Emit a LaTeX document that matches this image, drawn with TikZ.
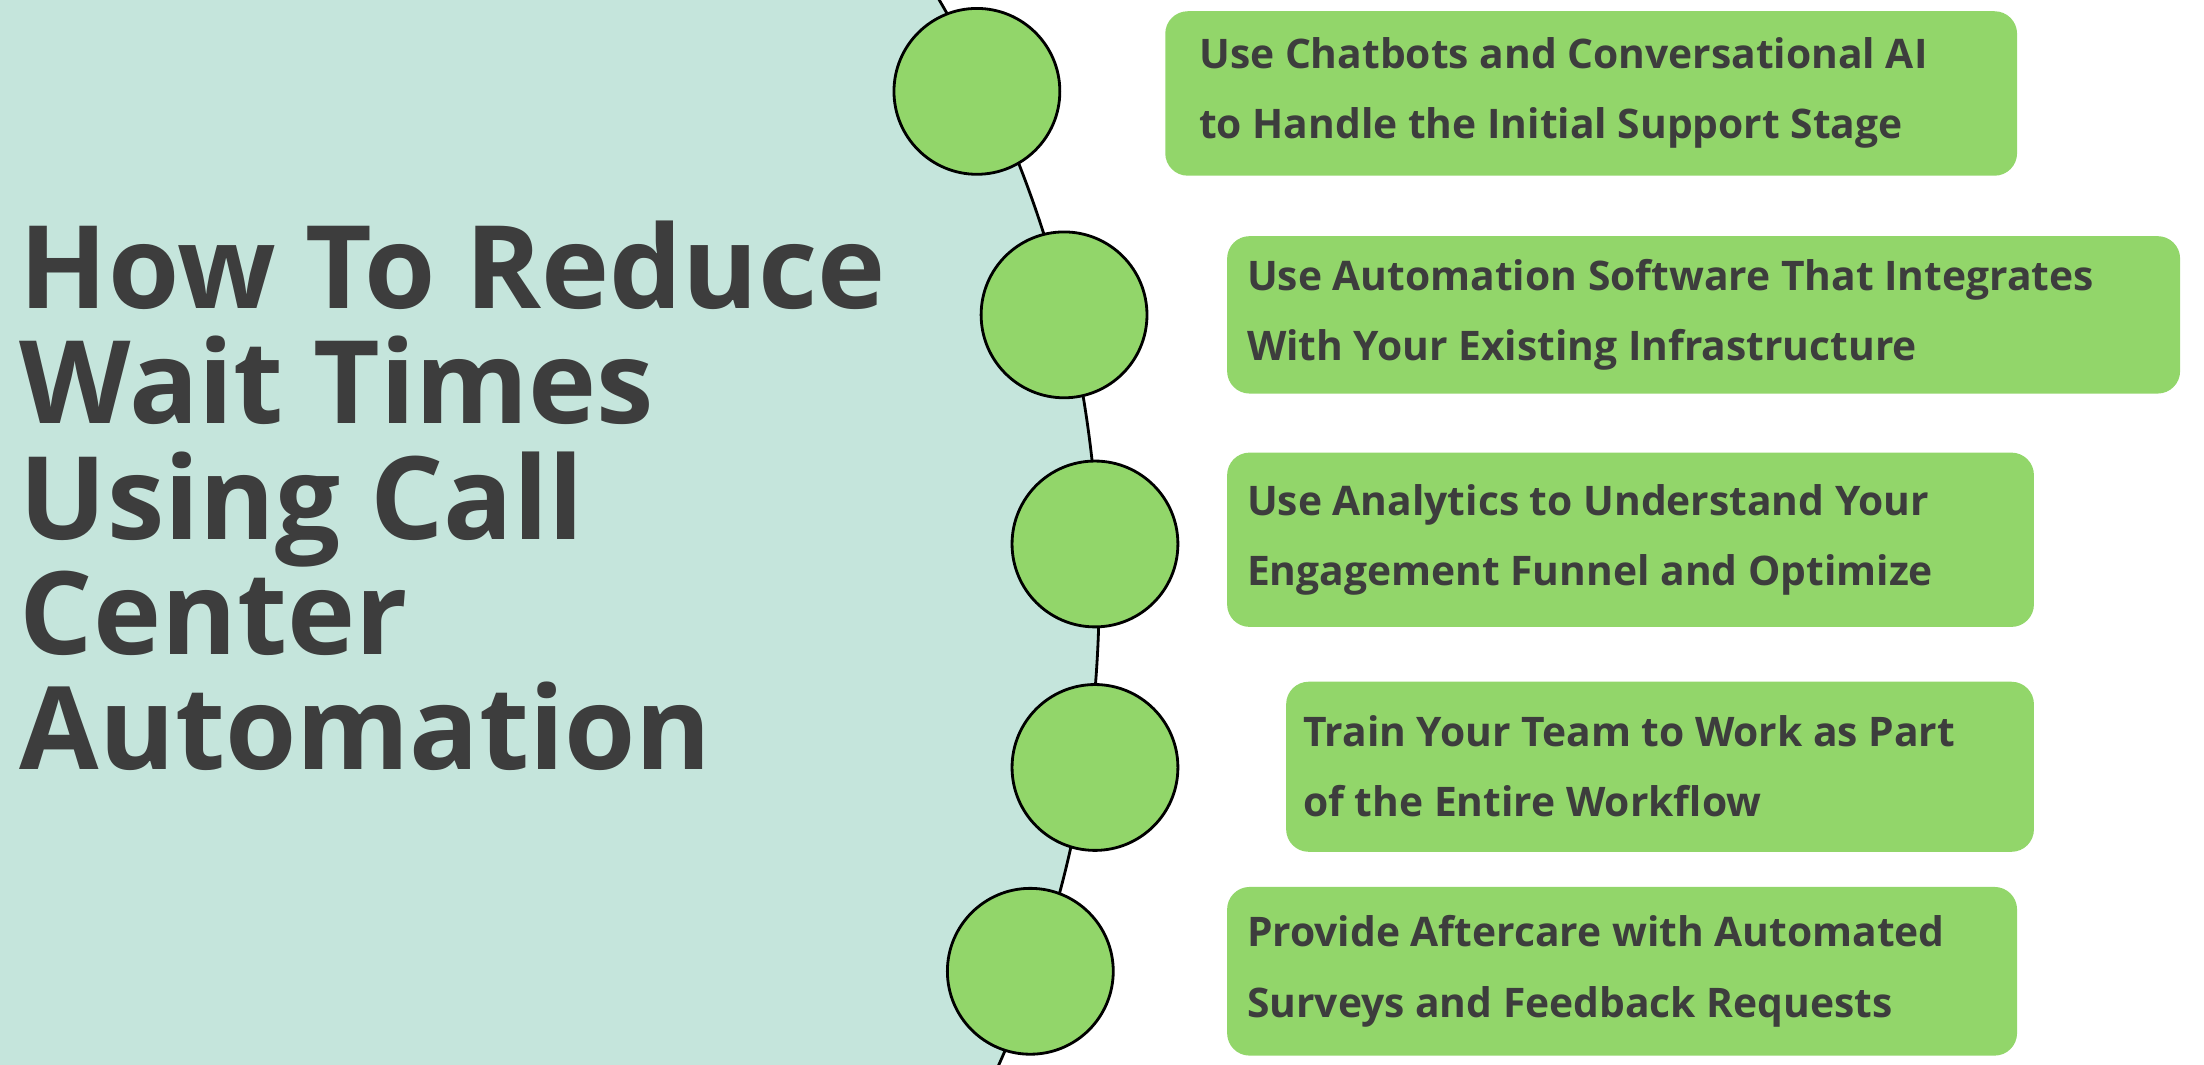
\documentclass[tikz,border=0pt]{standalone}
\usepackage{fontspec}
\setmainfont{Open Sans}
\definecolor{teal}{HTML}{C5E5DC}
\definecolor{grn}{HTML}{92D66A}
\definecolor{txt}{HTML}{3D3D3D}
\begin{document}
\begin{tikzpicture}[x=1pt,y=-1pt,
  dot/.style={circle,draw=black,line width=2pt,fill=grn,minimum size=118pt,inner sep=0pt},
  card/.style={fill=grn,rounded corners=16pt},
  cardtext/.style={anchor=west,align=left,text=txt,font=\fontsize{29}{50}\selectfont\bfseries,inner sep=0pt},
  title/.style={anchor=north west,align=left,text=txt,font=\fontsize{82}{82}\selectfont\bfseries,inner sep=0pt}]
\useasboundingbox (0,0) rectangle (1568,757);
\begin{scope}
\clip (0,0) rectangle (1568,757);
\fill[teal] (-49,420) circle (831pt);
\draw[line width=2pt] (-49,420) circle (831pt);
\end{scope}
\node[title] (t) at (14,157) {How To Reduce\\Wait Times\\Using Call\\Center\\Automation};
\node[dot] (c1) at (695,65) {};
\node[dot] (c2) at (757,224) {};
\node[dot] (c3) at (779,387) {};
\node[dot] (c4) at (779,546) {};
\node[dot] (c5) at (733,691) {};
\fill[card] (829,8) rectangle (1435,125);
\fill[card] (873,168) rectangle (1551,280);
\fill[card] (873,322) rectangle (1447,446);
\fill[card] (915,485) rectangle (1447,606);
\fill[card] (873,631) rectangle (1435,751);
\node[cardtext] (b1) at (853,66) {Use Chatbots and Conversational AI\\to Handle the Initial Support Stage};
\node[cardtext] (b2) at (887,224) {Use Automation Software That Integrates\\With Your Existing Infrastructure};
\node[cardtext] (b3) at (887,384) {Use Analytics to Understand Your\\Engagement Funnel and Optimize};
\node[cardtext] (b4) at (927,545) {Train Your Team to Work as Part\\of the Entire Workflow};
\node[cardtext] (b5) at (887,691) {Provide Aftercare with Automated\\Surveys and Feedback Requests};
\end{tikzpicture}
\end{document}
